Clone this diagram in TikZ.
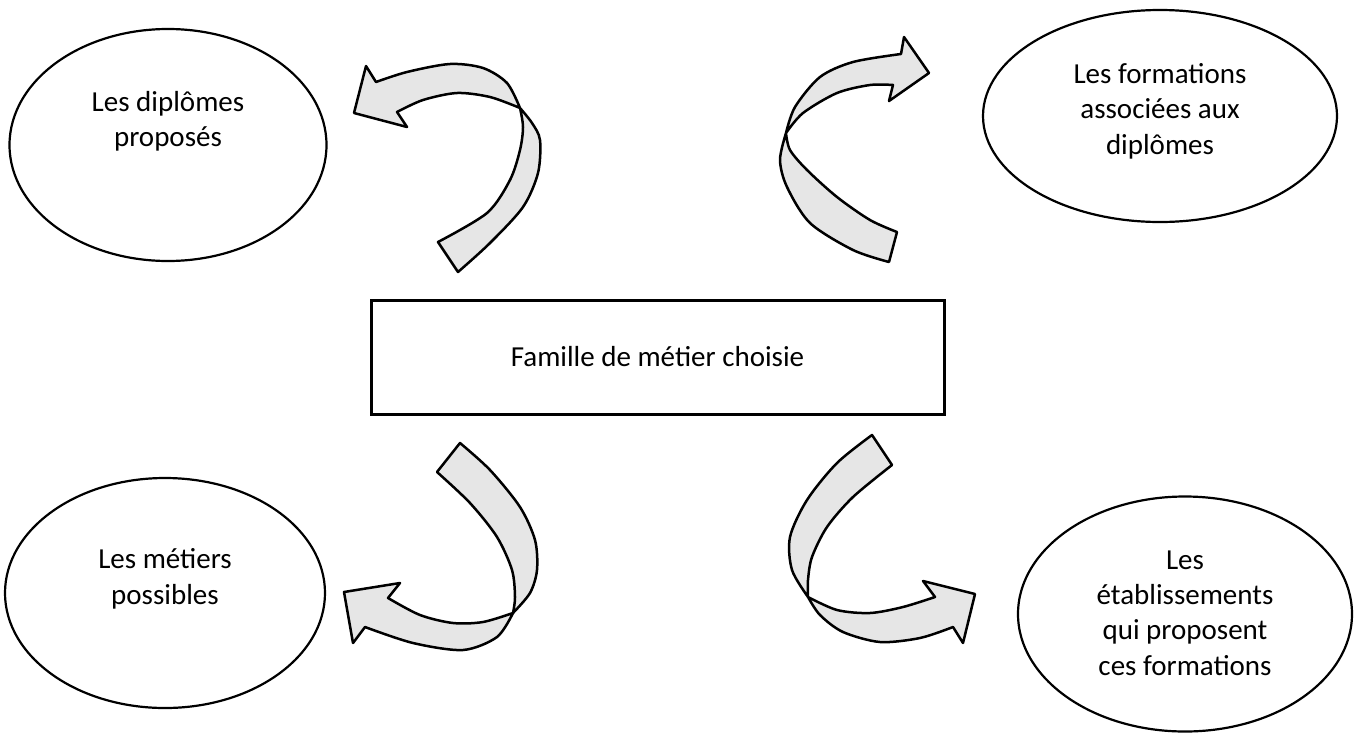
\documentclass[tikz,border=0pt]{standalone}
\usepackage{fontspec}
\setmainfont{Carlito}
\usetikzlibrary{shapes.geometric}
\definecolor{bandgray}{HTML}{E6E6E6}
\tikzset{
  ell/.style={draw=black, line width=2.2pt, ellipse, inner sep=0pt},
  box/.style={draw=black, line width=3pt, rectangle, inner sep=0pt},
  txt/.style={align=center, inner sep=0pt, font=\fontsize{29}{35.4}\selectfont},
  twist/.style={draw=black, fill=bandgray, line width=2.5pt, line join=round},
}
\begin{document}
\begin{tikzpicture}[x=1pt, y=-1pt]
\useasboundingbox (0,0) rectangle (1365,734);
% ellipses
\node[ell, minimum width=317pt, minimum height=232pt] (e1) at (168,145) {};
\node[ell, minimum width=354pt, minimum height=212pt] (e2) at (1160,116) {};
\node[ell, minimum width=320pt, minimum height=230pt] (e3) at (165,593) {};
\node[ell, minimum width=334pt, minimum height=235pt] (e4) at (1185,614) {};
% centre box
\node[box, minimum width=573pt, minimum height=114pt] (c) at (657.5,357) {};
% texts
\node[txt] (t1) at (e1.center |- 0,121) {Les diplômes\\proposés};
\node[txt] (t2) at (e2.center |- 0,111) {Les formations\\associées aux\\diplômes};
\node[txt] (t3) at (e3.center |- 0,579) {Les métiers\\possibles};
\node[txt] (t4) at (e4.center |- 0,613) {Les\\établissements\\qui proposent\\ces formations};
\node[txt] (tc) at (c.center |- 0,357) {Famille de métier choisie};
% twisted arrows
\draw[twist] plot[smooth] coordinates {(438,242) (487,213) (510,180) (520,150) (523,127) (520,108)}
  -- plot[smooth] coordinates {(520,108) (490,97) (457,93) (423,100) (397,112)}
  -- (407,127) -- (354,113) -- (366,66) -- (376,82)
  -- plot[smooth] coordinates {(376,82) (407,72) (450,64) (483,68) (507,83) (520,108)}
  -- plot[smooth] coordinates {(520,108) (532,123) (540,140) (538,173) (523,207) (490,243) (458,272)}
  -- cycle;
\draw[twist] plot[smooth] coordinates {(897,232) (870,220) (837,197) (807,170) (790,150) (786,133)}
  -- plot[smooth] coordinates {(786,133) (803,113) (837,93) (870,85) (893,85)}
  -- (889,101) -- (929,73) -- (904,37) -- (901,54)
  -- plot[smooth] coordinates {(901,54) (853,62) (820,77) (795,107) (786,133)}
  -- plot[smooth] coordinates {(786,133) (780,160) (787,187) (810,223) (853,250) (889,262)}
  -- cycle;
\draw[twist] plot[smooth] coordinates {(437,472) (470,503) (497,537) (512,570) (515,597) (513,613)}
  -- plot[smooth] coordinates {(513,613) (483,622) (453,623) (420,615) (388,598)}
  -- (400,583) -- (344,592) -- (353,643) -- (365,627)
  -- plot[smooth] coordinates {(365,627) (413,643) (463,650) (497,637) (513,613)}
  -- plot[smooth] coordinates {(513,613) (530,593) (537,570) (535,540) (520,507) (490,470) (460,443)}
  -- cycle;
\draw[twist] plot[smooth] coordinates {(892,465) (853,497) (827,527) (812,557) (808,580) (808,597)}
  -- plot[smooth] coordinates {(808,597) (837,610) (870,613) (903,607) (935,597)}
  -- (923,581) -- (975,594) -- (963,643) -- (953,627)
  -- plot[smooth] coordinates {(953,627) (920,638) (880,642) (843,632) (820,615) (808,597)}
  -- plot[smooth] coordinates {(808,597) (792,570) (790,537) (807,500) (837,463) (872,435)}
  -- cycle;
\end{tikzpicture}
\end{document}
